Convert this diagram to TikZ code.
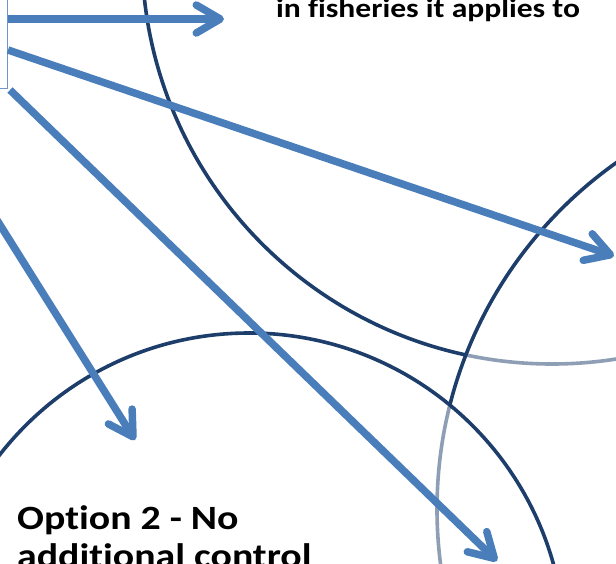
\documentclass[tikz,border=0pt]{standalone}
\usepackage{fontspec}
\setmainfont{Carlito}[Ligatures=NoCommon, FakeStretch=1.17]
\usetikzlibrary{arrows.meta}
\def\optonecircle{(552,-46) circle (410pt)}
\def\opttwocircle{(249,649) circle (316pt)}
\def\optthreecircle{(861,509) circle (424pt)}
\definecolor{circle edge}{HTML}{1D3D6B}
\definecolor{arrow blue}{HTML}{4A7EBB}
\definecolor{box edge}{HTML}{6E97CE}
\tikzset{
  outline/.style={draw=circle edge, line width=3.6pt},
  veiled/.style={outline, fill=white, fill opacity=0.5},
  pointer/.style={draw=arrow blue, line width=7.5pt,
    -{Straight Barb[length=24pt, width=28pt, round]}},
  caption/.style={font=\bfseries\fontsize{34}{38}\selectfont,
    anchor=base west, inner sep=0pt},
  smallcaption/.style={caption, font=\bfseries\fontsize{27}{33}\selectfont}
}

\begin{document}
\begin{tikzpicture}[x=1pt, y=-1pt]
    \useasboundingbox (0,0) rectangle (616,563);
    \begin{scope}
      \clip (0,0) rectangle (616,563);
      \draw[outline] \optonecircle;
      \draw[veiled] \optthreecircle;
      \draw[veiled] \opttwocircle;
      % text box on the left
      \node[draw=box edge, line width=1.2pt, minimum width=200pt,
        minimum height=150pt, anchor=south east] (qbox) at (8,89) {};
      \coordinate (q1) at (qbox.east |- 0,19);
      \coordinate (q2) at (qbox.east |- 0,50);
      \coordinate (q3) at (10,90);
      \coordinate (q4) at (-20,193);
      \coordinate (s1) at (224,19);
      \coordinate (s2) at (614,256);
      \coordinate (s3) at (497,561);
      \coordinate (s4) at (135,440);
      \draw[pointer] (q1) -- (s1);
      \draw[pointer] (q2) -- (s2);
      \draw[pointer] (q3) -- (s3);
      \draw[pointer] (q4) -- (s4);
      \node[smallcaption] (scopeline) at (276,17) {in fisheries it applies to};
      \node[caption] (opttwo) at (17,529) {Option 2 - No};
      \node[caption] (opttwob) at (17,567) {additional control};
    \end{scope}
  \end{tikzpicture}
\end{document}
